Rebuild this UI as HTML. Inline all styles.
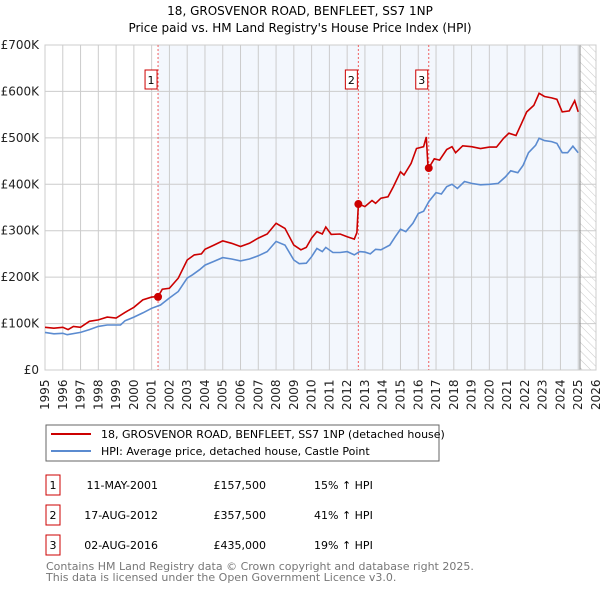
<!DOCTYPE html>
<html><head><meta charset="utf-8"><style>
body{margin:0;background:#fff;font-family:"Liberation Sans","DejaVu Sans",sans-serif;}
svg text{font-family:"DejaVu Sans","Liberation Sans",sans-serif;}
</style></head><body>
<svg id="c" width="600" height="590" xmlns="http://www.w3.org/2000/svg">
<defs><pattern id="hatch" width="6" height="6" patternUnits="userSpaceOnUse" patternTransform="rotate(-45)"><line x1="0" y1="0" x2="0" y2="6" stroke="#bbb" stroke-width="0.8"/></pattern></defs>
<text x="300" y="15" text-anchor="middle" font-size="12">18, GROSVENOR ROAD, BENFLEET, SS7 1NP</text>
<text x="300" y="32" text-anchor="middle" font-size="12">Price paid vs. HM Land Registry's House Price Index (HPI)</text>
<g id="plot"></g>
<rect x="46" y="425" width="393" height="36" fill="#fff" stroke="#666"/>
<line x1="51" y1="434" x2="91" y2="434" stroke="#cc0000" stroke-width="2"/>
<text x="101" y="438" font-size="11">18, GROSVENOR ROAD, BENFLEET, SS7 1NP (detached house)</text>
<line x1="51" y1="451" x2="91" y2="451" stroke="#5b8bd0" stroke-width="2"/>
<text x="101" y="455" font-size="11">HPI: Average price, detached house, Castle Point</text>
<g id="table" font-size="11"></g>
<text x="46" y="570" font-size="11" fill="#777">Contains HM Land Registry data © Crown copyright and database right 2025.</text>
<text x="46" y="581" font-size="11" fill="#777">This data is licensed under the Open Government Licence v3.0.</text>
</svg>
<script>
const hpiYears=[1995,1995.5,1996,1996.25,1997,1997.5,1998,1998.5,1999,1999.25,1999.5,2000,2000.5,2001,2001.5,2002,2002.5,2003,2003.3,2003.7,2004,2004.5,2005,2005.5,2006,2006.5,2007,2007.5,2008,2008.5,2009,2009.3,2009.7,2010,2010.3,2010.6,2010.8,2011.2,2011.6,2012,2012.4,2012.7,2013,2013.3,2013.6,2013.9,2014.4,2014.7,2015,2015.3,2015.7,2016,2016.3,2016.6,2017,2017.3,2017.6,2017.9,2018.2,2018.6,2019,2019.5,2020,2020.5,2020.9,2021.2,2021.6,2021.9,2022.2,2022.6,2022.8,2023.1,2023.5,2023.8,2024.1,2024.4,2024.7,2025];
const hpiValues=[81,78,79,76,81,87,94,97,97,97,106,114,123,133,140,155,169,198,205,216,226,234,242,239,235,239,246,255,277,269,237,229,230,244,262,255,264,253,253,255,248,255,254,250,260,259,269,287,303,298,316,337,342,363,382,379,395,400,391,406,402,399,400,402,416,429,425,441,468,484,499,494,492,488,468,468,482,468];
const priceYears=[1995,1995.5,1996,1996.3,1996.6,1997,1997.5,1998,1998.5,1999,1999.5,2000,2000.5,2001,2001.36,2001.6,2002,2002.5,2003,2003.4,2003.8,2004,2004.5,2005,2005.5,2006,2006.5,2007,2007.5,2008,2008.5,2009,2009.4,2009.7,2010,2010.3,2010.6,2010.8,2011.1,2011.6,2012,2012.4,2012.55,2012.63,2013,2013.4,2013.6,2013.9,2014.3,2014.6,2015,2015.2,2015.6,2015.9,2016.3,2016.45,2016.55,2016.59,2016.9,2017.2,2017.6,2017.9,2018.1,2018.5,2019,2019.5,2020,2020.4,2020.8,2021.1,2021.5,2021.8,2022.1,2022.5,2022.8,2023.1,2023.5,2023.8,2024.1,2024.5,2024.8,2025];
const priceValues=[92,90,92,87,94,92,105,108,114,112,124,135,151,157,158,174,176,198,237,248,250,260,269,278,273,266,273,284,293,316,305,269,259,264,284,298,293,308,292,293,287,282,296,358,352,365,359,370,373,395,427,420,445,477,481,502,437,435,455,452,475,481,468,483,481,477,480,480,499,510,505,530,556,570,596,589,586,583,556,558,580,556];
const saleLabels=["1","2","3"];
const saleYears=[2001.36,2012.63,2016.59];
const saleValues=[157.5,357.5,435];
const saleDates=["11-MAY-2001","17-AUG-2012","02-AUG-2016"];
const salePrices=["£157,500","£357,500","£435,000"];
const saleDiffs=["15% ↑ HPI","41% ↑ HPI","19% ↑ HPI"];
const yTicks=[0,100,200,300,400,500,600,700];
const yTickLabels=["£0","£100K","£200K","£300K","£400K","£500K","£600K","£700K"];
const xTicks=[1995,1996,1997,1998,1999,2000,2001,2002,2003,2004,2005,2006,2007,2008,2009,2010,2011,2012,2013,2014,2015,2016,2017,2018,2019,2020,2021,2022,2023,2024,2025,2026];

const NS="http://www.w3.org/2000/svg";
const X0=45,X1=596,Y0=370,Y1=45,YR0=1995,YR1=2026,VMAX=700,HATCH=2025.1;
const sx=y=>X0+(y-YR0)/(YR1-YR0)*(X1-X0);
const sy=v=>Y0-v/VMAX*(Y0-Y1);
const plot=document.getElementById('plot');
function mk(tag,attrs,parent){const e=document.createElementNS(NS,tag);for(const k in attrs)e.setAttribute(k,attrs[k]);(parent||plot).appendChild(e);return e;}

let e;
e=mk('rect',{x:X0,y:Y1,width:X1-X0,height:Y0-Y1,fill:'#fff'});


e=mk('rect',{x:sx(saleYears[0]),y:Y1,width:sx(HATCH)-sx(saleYears[0]),height:Y0-Y1,fill:'#eef3fc',opacity:0.7});


e=mk('rect',{x:sx(HATCH),y:Y1,width:X1-sx(HATCH),height:Y0-Y1,fill:'url(#hatch)'});


xTicks.forEach((t,i)=>{
  e=mk('line',{x1:sx(t),x2:sx(t),y1:Y1,y2:Y0,stroke:'#ccc','stroke-width':1});
  
  
  e=mk('text',{x:0,y:0,transform:`translate(${sx(t)+4},${Y0+40}) rotate(-90)`,'font-size':12,fill:'#222'});
  e.textContent=t;
  
  
});
yTicks.forEach((t,i)=>{
  e=mk('line',{x1:X0,x2:X1,y1:sy(t),y2:sy(t),stroke:'#ccc','stroke-width':1});
  
  
  e=mk('text',{x:X0-6,y:sy(t)+4,'text-anchor':'end','font-size':12,fill:'#222'});
  e.textContent=yTickLabels[i];
  
  
});
e=mk('line',{x1:sx(HATCH),x2:sx(HATCH),y1:Y1,y2:Y0,stroke:'#888','stroke-width':1});


e=mk('rect',{x:X0,y:Y1,width:X1-X0,height:Y0-Y1,fill:'none',stroke:'#ccc'});


saleYears.forEach((s,i)=>{
  e=mk('line',{x1:sx(s),x2:sx(s),y1:Y1,y2:Y0,stroke:'#f06060','stroke-width':1,'stroke-dasharray':'2,2'});
  
  
});
const pts=(xs,vs)=>xs.map((y,i)=>sx(y).toFixed(1)+','+sy(vs[i]).toFixed(1)).join(' ');
e=mk('polyline',{points:pts(hpiYears,hpiValues),fill:'none',stroke:'#5b8bd0','stroke-width':1.6});


e=mk('polyline',{points:pts(priceYears,priceValues),fill:'none',stroke:'#cc0000','stroke-width':1.6});


saleYears.forEach((s,i)=>{
  e=mk('circle',{cx:sx(s),cy:sy(saleValues[i]),r:4,fill:'#cc0000'});
  
  
  e=mk('rect',{x:sx(s)-13,y:70,width:12,height:19,fill:'#fff',stroke:'#cc0000'});
  
  
  e=mk('text',{x:sx(s)-7,y:84,'text-anchor':'middle','font-size':11});
  e.textContent=saleLabels[i];
  
  
});
const tb=document.getElementById('table');
saleLabels.forEach((l,i)=>{
  const cy=485+i*30;
  e=mk('rect',{x:46,y:cy-10,width:14,height:20,fill:'#fff',stroke:'#cc0000'},tb);
  
  
  e=mk('text',{x:53,y:cy+4,'text-anchor':'middle'},tb);e.textContent=l;
  
  
  e=mk('text',{x:158,y:cy+4,'text-anchor':'end'},tb);e.textContent=saleDates[i];
  
  
  e=mk('text',{x:266,y:cy+4,'text-anchor':'end'},tb);e.textContent=salePrices[i];
  
  
  e=mk('text',{x:314,y:cy+4},tb);e.textContent=saleDiffs[i];
  
  
});
</script>
</body></html>
